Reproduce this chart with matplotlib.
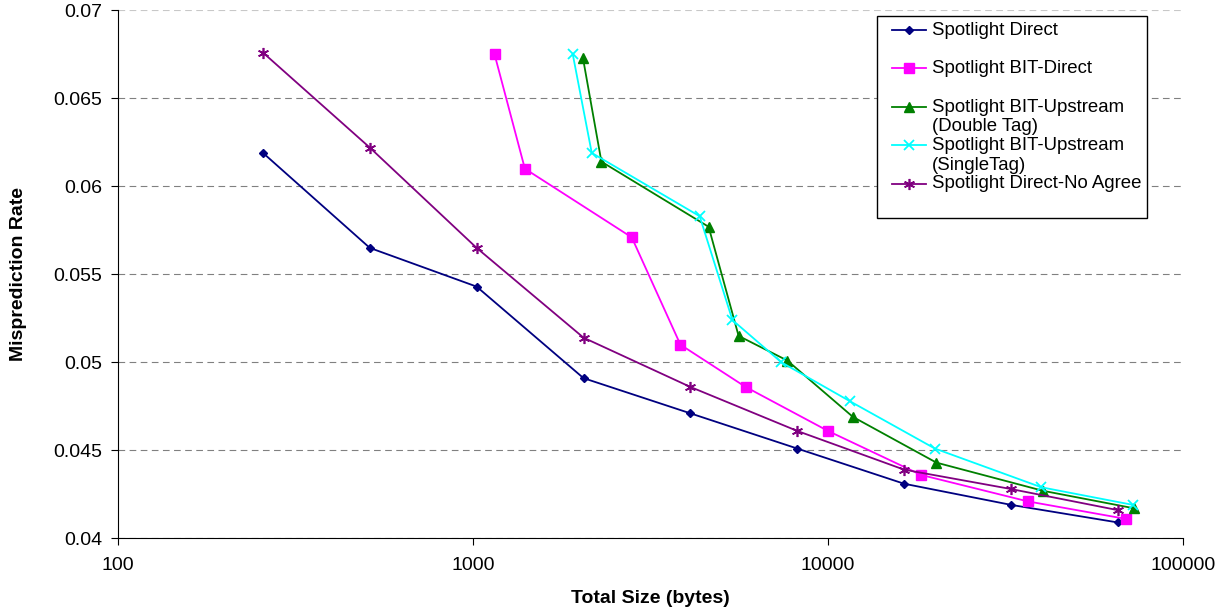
import numpy as np
import matplotlib
matplotlib.use('Agg')
import matplotlib.pyplot as plt
from matplotlib.ticker import FixedLocator, FuncFormatter, NullLocator
from matplotlib.legend_handler import HandlerLine2D

plt.rcParams['font.family'] = ['Liberation Sans', 'DejaVu Sans']

# Data
pow2_sizes = [256, 512, 1024, 2048, 4096, 8192, 16384, 32768, 65536]
direct_rate = [0.0619, 0.0565, 0.0543, 0.0491, 0.0471, 0.0451, 0.0431, 0.0419, 0.0409]
no_agree_rate = [0.0676, 0.0622, 0.0565, 0.0514, 0.0486, 0.0461, 0.0439, 0.0428, 0.0416]

bit_direct_size = [1150, 1400, 2800, 3840, 5860, 10000, 18300, 36500, 69100]
bit_direct_rate = [0.0675, 0.0610, 0.0571, 0.0510, 0.0486, 0.0461, 0.0436, 0.0421, 0.0411]

double_tag_size = [2040, 2300, 4610, 5600, 7680, 11750, 20200, 40300, 73000]
double_tag_rate = [0.0673, 0.0614, 0.0577, 0.0515, 0.0501, 0.0469, 0.0443, 0.0427, 0.0417]

single_tag_size = [1910, 2160, 4350, 5380, 7390, 11500, 20000, 39900, 72200]
single_tag_rate = [0.0675, 0.0619, 0.0583, 0.0524, 0.0500, 0.0478, 0.0451, 0.0429, 0.0419]

x_ticks = [100, 1000, 10000, 100000]
y_ticks = [0.04, 0.045, 0.05, 0.055, 0.06, 0.065, 0.07]

W, H = 1228, 610
fig = plt.figure(figsize=(W / 100, H / 100), dpi=100)
ax = fig.add_axes([118 / W, 1 - 538.3 / H, (1183 - 118) / W, (538.3 - 10.3) / H])

lw = 1.3
ax.plot(pow2_sizes, direct_rate, color='#000080', lw=lw, marker='D', ms=4.5,
        label='Spotlight Direct\n')
ax.plot(bit_direct_size, bit_direct_rate, color='#FF00FF', lw=lw, marker='s', ms=7,
        label='Spotlight BIT-Direct\n')
ax.plot(double_tag_size, double_tag_rate, color='#008000', lw=lw, marker='^', ms=7.5,
        label='Spotlight BIT-Upstream\n(Double Tag)')
ax.plot(single_tag_size, single_tag_rate, color='#00FFFF', lw=lw, marker='x', ms=7, mew=1.3,
        label='Spotlight BIT-Upstream\n(SingleTag)')
ax.plot(pow2_sizes, no_agree_rate, color='#800080', lw=lw, marker=(6, 2, 0), ms=8, mew=1.2,
        label='Spotlight Direct-No Agree\n')

ax.set_xscale('log')
ax.set_xlim(100, 100000)
ax.set_ylim(0.04, 0.07)
ax.xaxis.set_major_locator(FixedLocator(x_ticks))
ax.xaxis.set_minor_locator(NullLocator())
ax.xaxis.set_major_formatter(FuncFormatter(lambda v, p: '%d' % v))
ax.yaxis.set_major_locator(FixedLocator(y_ticks))
ax.yaxis.set_major_formatter(FuncFormatter(lambda v, p: '%g' % round(v, 4)))

ax.grid(axis='y', color='#808080', lw=0.8, ls=(0, (6, 4)))
ax.set_axisbelow(True)
# top gridline looks lighter in the original
ax.get_ygridlines()[-1].set_color('#c8c8c8')
for s in ['top', 'right']:
    ax.spines[s].set_visible(False)
for s in ['left', 'bottom']:
    ax.spines[s].set_color('#000000')
    ax.spines[s].set_linewidth(0.8)
ax.tick_params(axis='both', direction='out', length=4.7, width=0.8, labelsize=14)
ax.tick_params(axis='y', pad=6.5)
ax.tick_params(axis='x', pad=9)

ax.set_xlabel('Total Size (bytes)', fontsize=14, fontweight='bold')
ax.set_ylabel('Misprediction Rate', fontsize=14, fontweight='bold')
ax.xaxis.set_label_coords(0.5, -0.097)
ax.yaxis.set_label_coords(-0.085, 0.5)

# legend: marker sits on first text line, line drawn from a small left indent
leg_fs = 13.4


class FirstLineHandler(HandlerLine2D):
    def create_artists(self, legend, orig_handle, xdescent, ydescent, width, height, fontsize, trans):
        arts = super().create_artists(legend, orig_handle, xdescent, ydescent,
                                      width, height, fontsize, trans)
        shift = 6.8
        for a in arts:
            xd = np.asarray(a.get_xdata(), dtype=float)
            x0 = -xdescent
            a.set_xdata(x0 + shift + (xd - x0) * (width - shift) / width)
            a.set_ydata(np.asarray(a.get_ydata(), dtype=float) + 0.535 * fontsize)
        return arts


handles, labels = ax.get_legend_handles_labels()
leg = ax.legend(handles, labels, loc='upper left',
                bbox_to_anchor=(877 / W, 1 - 16 / H), bbox_transform=fig.transFigure,
                fontsize=leg_fs, frameon=True, fancybox=False, framealpha=1,
                edgecolor='#000000', borderpad=0.3, labelspacing=0.1,
                handlelength=2.33, handletextpad=0.3, borderaxespad=0,
                handler_map={h: FirstLineHandler() for h in handles})
leg.get_frame().set_linewidth(1.0)

fig.savefig('out.png', dpi=100)
